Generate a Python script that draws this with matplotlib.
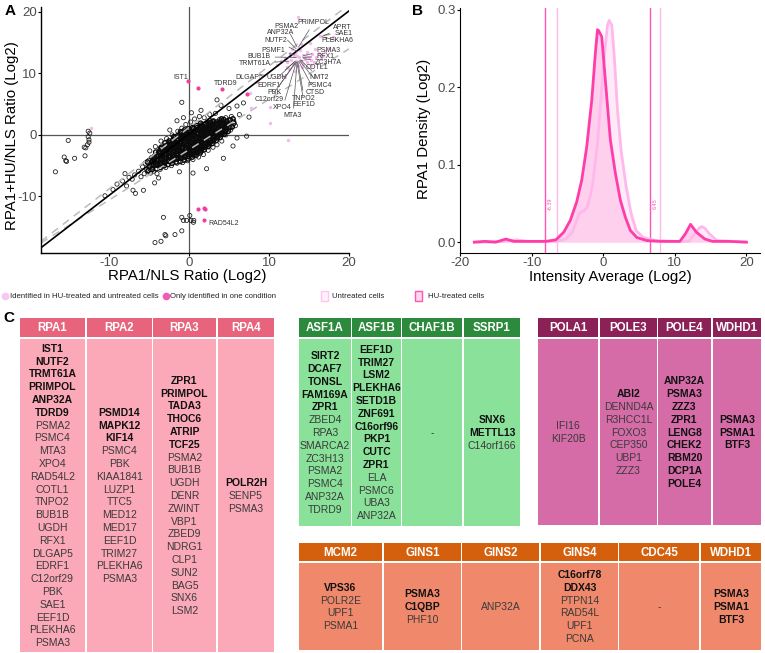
import matplotlib
matplotlib.use('Agg')
import matplotlib.pyplot as plt
from matplotlib.patches import Rectangle

# ---------------- DATA ----------------
# Panel A: background proteins (black open circles)
cloud_points = [
    (-5.8,-5.2),(-5.5,-4.6),(-5.3,-5.6),(-5.0,-4.1),(-4.9,-5.0),(-4.7,-3.7),(-4.6,-4.5),(-4.5,-5.4),
    (-4.3,-3.9),(-4.2,-4.8),(-4.0,-3.2),(-3.9,-4.1),(-3.8,-5.0),(-3.7,-2.8),(-3.6,-3.6),(-3.5,-4.4),
    (-3.4,-2.2),(-3.3,-3.0),(-3.2,-3.9),(-3.1,-4.7),(-3.0,-2.5),(-2.9,-3.3),(-2.8,-1.8),(-2.7,-4.2),
    (-2.6,-2.9),(-2.5,-3.6),(-2.4,-1.5),(-2.3,-2.3),(-2.2,-3.1),(-2.1,-4.0),(-2.0,-1.9),(-1.9,-2.7),
    (-1.8,-3.5),(-1.7,-1.2),(-1.6,-2.2),(-1.5,-3.0),(-1.4,-0.8),(-1.3,-1.7),(-1.2,-2.5),(-1.1,-3.3),
    (-1.0,-1.1),(-0.9,-2.0),(-0.8,-0.4),(-0.7,-2.8),(-0.6,-1.4),(-0.5,-3.6),(-0.4,-0.9),(-0.3,-2.2),
    (-0.2,-0.1),(-0.1,-1.6),(0.0,-2.9),(0.1,-0.6),(0.2,-1.3),(0.3,-2.4),(0.4,0.2),(0.5,-0.9),
    (0.6,-1.8),(0.7,-3.2),(0.8,0.6),(0.9,-0.3),(1.0,-1.4),(1.1,-2.5),(1.2,0.9),(1.3,-0.1),
    (1.4,-1.0),(1.5,-2.0),(1.6,1.3),(1.7,0.3),(1.8,-0.6),(1.9,-1.6),(2.0,1.7),(2.1,0.7),
    (2.2,-0.3),(2.3,-1.3),(2.4,2.0),(2.5,1.0),(2.6,0.0),(2.7,-0.9),(2.8,1.5),(2.9,0.5),
    (3.0,-0.5),(3.1,2.3),(3.2,1.2),(3.3,0.2),(3.4,-0.3),(3.6,1.8),(3.7,0.8),(3.8,2.5),
    (3.9,1.4),(4.0,0.4),(4.2,2.1),(4.4,1.1),(4.6,2.8),(4.8,1.8),(5.0,2.5),(5.3,3.0),(5.6,2.2),
    (-6.8,-6.5),(-6.3,-5.9),(-7.1,-7.2),(-6.0,-6.8),(-5.6,-6.3),(-5.2,-6.0),(-4.8,-6.2),(-4.4,-5.9),
    (-4.0,-6.3),(-3.6,-5.6),(-2.9,-5.3),(-2.2,-5.0),(-1.5,-4.6),(-0.8,-4.5),(-0.2,-4.2),(0.5,-4.0),
    (1.2,-3.6),(1.8,-3.2),(2.4,-2.5),(3.0,-2.0),(3.5,-1.6),(4.1,-1.0),(4.6,0.0),(5.2,0.8),(5.8,1.5),
    (-4.9,-2.6),(-4.2,-1.9),(-3.5,-1.0),(-2.8,-0.6),(-2.1,0.0),(-1.4,0.6),(-0.9,1.1),(-0.4,1.7),
    (0.2,2.1),(0.7,2.6),(1.3,3.0),(1.9,2.8),(2.6,3.3),(3.3,3.5),
    (-0.5,-1.3),(0.0,-1.0),(0.3,-0.4),(-0.2,-2.6),(0.6,-2.2),(1.0,-0.7),(-1.2,-1.4),(-0.7,-0.7),
    (0.9,-1.9),(1.6,-0.4),(-1.8,-2.2),(-2.5,-2.6),(-0.3,0.4),(1.1,0.3),(2.0,-0.7),(-1.0,-2.6),
    (0.4,-3.0),(-3.0,-3.7),(-2.0,-3.3),(1.4,-2.7),(2.7,0.4),(-1.5,-1.9),(0.2,-1.9),(1.8,0.9),
    (3.0,0.9),(-4.1,-4.4),(-3.3,-3.4),(-0.6,-0.2),(0.1,-2.3),(0.8,-1.1),(-0.1,-0.5),(1.3,-1.6),
    (-1.1,-0.4),(0.5,0.8),(2.2,0.3),(-2.6,-1.2),(-3.8,-3.0),(-1.6,-3.9),(0.9,-2.9),(2.5,-1.8),
    (-9.5,-8.9),(-9.0,-8.0),(-8.3,-7.5),(-7.8,-8.3),(-7.5,-6.9),(-7.0,-9.0),(-6.7,-9.5),(-5.7,-9.0),
    (-4.3,-7.8),(-8.0,-6.3),(-2.4,0.8),(-0.9,5.3),(-1.5,2.3),(-0.7,2.8),(3.5,5.7),(6.0,4.7),
    (7.2,-0.2),(2.2,-5.5),(4.3,-3.8),(5.5,-1.8),(6.3,3.3),(6.8,5.2),(5.0,4.3),(4.0,4.8),(7.5,2.9),
    (-1.2,-6.0),(0.5,-6.2),(-3.8,-7.0),(1.5,4.0),(0.3,3.6),(6.0,-0.5),(-10.5,-9.9),
    (-16.7,-6.0),(-15.1,-0.9),(-15.6,-3.6),(-15.4,-4.2),(-15.3,-4.3),(-14.3,-3.8),(-13.0,-3.4),
    (-12.9,-2.1),(-13.1,-2.0),(-12.7,-1.6),(-12.6,-0.3),(-12.5,-0.8),(-12.4,0.3),(-12.6,0.6),(-12.5,-1.2),
    (-3.2,-13.4),(-4.25,-17.5),(-3.5,-17.3),(-3.0,-16.2),(-2.9,-16.4),(-1.75,-16.2),(-0.9,-15.6),
    (-0.9,-13.4),(-0.3,-13.9),(0.25,-13.9),(0.55,-14.2),(0.6,-13.9),(0.1,-13.1),(-0.7,-13.9),
]
# the dense core of the cloud
core_points = [
    (-5.1,-5.8),(-4.9,-5.1),(-5.2,-4.4),
    (-4.6,-5.6),(-4.4,-4.9),(-4.55,-4.2),(-4.35,-3.5),
    (-4.1,-5.5),(-3.9,-4.7),(-4.05,-4.0),(-3.85,-3.4),(-4.15,-2.8),
    (-3.6,-5.3),(-3.4,-4.6),(-3.55,-3.9),(-3.35,-3.2),(-3.65,-2.6),(-3.45,-2.0),
    (-3.1,-5.0),(-2.9,-4.3),(-3.05,-3.6),(-2.85,-3.0),(-3.15,-2.4),(-2.95,-1.8),(-3.0,-1.3),
    (-2.6,-4.8),(-2.4,-4.1),(-2.55,-3.4),(-2.35,-2.8),(-2.65,-2.2),(-2.45,-1.6),(-2.5,-1.0),
    (-2.1,-4.6),(-1.9,-3.9),(-2.05,-3.2),(-1.85,-2.6),(-2.15,-2.0),(-1.95,-1.4),(-2.0,-0.8),(-1.9,-0.3),
    (-1.6,-4.4),(-1.4,-3.7),(-1.55,-3.1),(-1.35,-2.5),(-1.65,-1.9),(-1.45,-1.3),(-1.5,-0.7),(-1.4,-0.1),
    (-1.1,-4.3),(-0.9,-3.6),(-1.05,-3.0),(-0.85,-2.3),(-1.15,-1.7),(-0.95,-1.2),(-1.0,-0.6),(-0.9,0.0),(-1.05,0.5),
    (-0.6,-4.1),(-0.4,-3.4),(-0.55,-2.8),(-0.35,-2.2),(-0.65,-1.6),(-0.45,-1.0),(-0.5,-0.4),(-0.4,0.2),(-0.55,0.8),
    (-0.1,-3.9),(0.1,-3.2),(-0.05,-2.6),(0.15,-2.0),(-0.15,-1.4),(0.05,-0.8),(0.0,-0.2),(0.1,0.4),(-0.05,1.0),
    (0.4,-3.6),(0.6,-3.0),(0.45,-2.4),(0.65,-1.8),(0.35,-1.2),(0.55,-0.6),(0.5,0.0),(0.6,0.6),(0.45,1.2),
    (0.9,-3.3),(1.1,-2.7),(0.95,-2.1),(1.15,-1.5),(0.85,-0.9),(1.05,-0.3),(1.0,0.3),(1.1,0.9),(0.95,1.5),
    (1.4,-2.9),(1.6,-2.3),(1.45,-1.7),(1.65,-1.1),(1.35,-0.5),(1.55,0.1),(1.5,0.7),(1.6,1.3),(1.45,1.9),
    (1.9,-2.4),(2.1,-1.8),(1.95,-1.2),(2.15,-0.6),(1.85,0.0),(2.05,0.6),(2.0,1.2),(2.1,1.8),
    (2.4,-1.9),(2.6,-1.3),(2.45,-0.7),(2.65,-0.1),(2.35,0.5),(2.55,1.1),(2.5,1.7),(2.6,2.3),
    (2.9,-1.4),(3.1,-0.8),(2.95,-0.2),(3.15,0.4),(2.85,1.0),(3.05,1.6),(3.0,2.2),
    (3.4,-0.9),(3.6,-0.3),(3.45,0.3),(3.65,0.9),(3.35,1.5),(3.55,2.1),
    (3.9,-0.4),(4.1,0.2),(3.95,0.8),(4.15,1.4),(3.85,2.0),(4.05,2.6),
    (4.4,0.1),(4.6,0.7),(4.45,1.3),(4.65,1.9),(4.35,2.5),
    (4.9,0.6),(5.1,1.2),(4.95,1.8),(5.15,2.4),
    (5.4,1.3),(5.6,1.9),(5.5,2.6),
]
core_points_inner = [
    (-4.6,-5.0),(-4.35,-4.3),(-4.5,-3.7),
    (-4.1,-4.9),(-3.9,-4.2),(-4.0,-3.5),(-3.8,-2.9),
    (-3.6,-4.8),(-3.35,-4.1),(-3.5,-3.4),(-3.3,-2.8),(-3.55,-2.2),
    (-3.1,-4.5),(-2.85,-3.8),(-3.0,-3.2),(-2.8,-2.6),(-3.05,-2.0),
    (-2.6,-4.3),(-2.35,-3.7),(-2.5,-3.0),(-2.3,-2.4),(-2.55,-1.8),(-2.4,-1.3),
    (-2.1,-4.1),(-1.85,-3.5),(-2.0,-2.9),(-1.8,-2.3),(-2.05,-1.7),(-1.9,-1.1),(-1.8,-0.5),
    (-1.6,-3.9),(-1.35,-3.3),(-1.5,-2.7),(-1.3,-2.1),(-1.55,-1.5),(-1.4,-0.9),(-1.3,-0.3),
    (-1.1,-3.8),(-0.85,-3.2),(-1.0,-2.6),(-0.8,-2.0),(-1.05,-1.4),(-0.9,-0.8),(-0.8,-0.2),(-0.95,0.3),
    (-0.6,-3.6),(-0.35,-3.0),(-0.5,-2.4),(-0.3,-1.8),(-0.55,-1.2),(-0.4,-0.6),(-0.3,0.0),(-0.45,0.5),
    (-0.1,-3.5),(0.15,-2.9),(0.0,-2.3),(0.2,-1.7),(-0.05,-1.1),(0.1,-0.5),(0.2,0.1),(0.05,0.7),
    (0.4,-3.2),(0.65,-2.6),(0.5,-2.0),(0.7,-1.4),(0.45,-0.8),(0.6,-0.2),(0.7,0.4),(0.55,1.0),
    (0.9,-2.9),(1.15,-2.3),(1.0,-1.7),(1.2,-1.1),(0.95,-0.5),(1.1,0.1),(1.2,0.7),(1.05,1.2),
    (1.4,-2.5),(1.65,-1.9),(1.5,-1.3),(1.7,-0.7),(1.45,-0.1),(1.6,0.5),(1.7,1.0),(1.55,1.6),
    (1.9,-2.0),(2.15,-1.4),(2.0,-0.8),(2.2,-0.2),(1.95,0.4),(2.1,0.9),(2.2,1.5),
    (2.4,-1.5),(2.65,-0.9),(2.5,-0.3),(2.7,0.3),(2.45,0.8),(2.6,1.4),(2.7,2.0),
    (2.9,-1.0),(3.15,-0.4),(3.0,0.2),(3.2,0.7),(2.95,1.3),(3.1,1.9),
    (3.4,-0.5),(3.65,0.1),(3.5,0.6),(3.7,1.2),(3.45,1.8),
    (3.9,0.0),(4.15,0.5),(4.0,1.1),(4.2,1.7),(4.1,2.3),
    (4.45,0.5),(4.7,1.0),(4.55,1.6),(4.75,2.2),
]
cloud_x = [p[0] for p in cloud_points]
cloud_y = [p[1] for p in cloud_points]
core_x = [p[0] for p in core_points + core_points_inner]
core_y = [p[1] for p in core_points + core_points_inner]

# identified in both conditions (light pink)
both_x = [12.0,12.3,12.6,12.8,13.0,13.1,13.3,13.4,13.6,13.7,13.9,14.0,14.2,14.3,14.5,14.7,14.8,15.0,
          15.2,15.4,15.6,15.9,16.2,16.5,12.5,13.2,11.5,11.0,17.0,17.5,16.4,15.1,13.6,12.6,10.1,7.8,
          10.1,12.4,9.3,8.5,7.6,-12.2,14.0,18.0,11.8,12.9,13.5,14.1,14.6,15.3,13.8,12.2,16.8,15.7]
both_y = [12.5,11.8,13.0,12.2,11.5,12.8,13.4,12.0,11.2,12.6,13.8,12.1,11.6,13.0,12.4,11.9,13.5,12.7,
          12.2,13.2,11.8,12.6,13.3,12.4,10.8,10.4,12.0,11.3,13.6,14.2,16.1,15.0,19.1,13.4,4.6,4.4,
          2.0,-0.8,9.8,8.6,6.8,1.1,14.8,16.0,9.5,13.9,12.9,11.0,12.9,11.4,14.2,11.1,12.9,14.0]
# identified in only one condition (magenta)
one_x = [-0.1, 1.1, 4.1, 7.3, 1.15, 1.9, 2.0, 1.9]
one_y = [8.7, 7.6, 7.5, 6.7, -12.1, -11.9, -12.0, -13.9]

# fitted line and reference lines (slope, intercept)
fit_line = (1.0, 0.16)
ref_lines = [(1.0, 1.2), (0.82, -2.4)]

# labels of panel A: name, label position, point the leader goes to
cluster_labels = ['PRIMPOL','PSMA2','ANP32A','NUTF2','APRT','SAE1','PLEKHA6','PSMF1','PSMA3','RFX1',
                  'BUB1B','ZC3H7A','TRMT61A','COTL1','DLGAP5','UGDH','NMT2','EDRF1','PSMC4','PBK',
                  'CTSD','TNPO2','C12orf29','EEF1D','XPO4','MTA3']
cluster_label_xy = [(15.6,18.3),(12.2,17.6),(11.4,16.6),(10.9,15.4),(19.2,17.5),(19.3,16.5),(18.5,15.3),
                    (10.5,13.8),(17.4,13.8),(17.0,12.8),(8.8,12.7),(17.4,11.8),(8.25,11.6),(16.0,10.9),
                    (7.5,9.3),(11.0,9.4),(16.3,9.3),(10.0,8.0),(16.3,8.1),(10.7,6.9),(15.8,6.9),
                    (14.4,6.0),(10.0,5.7),(14.4,5.0),(11.7,4.4),(13.0,3.1)]
cluster_targets = [(13.7,14.3),(13.5,14.3),(13.4,14.0),(13.6,13.5),(16.6,16.0),(16.8,16.2),(16.9,15.9),
                   (13.2,13.0),(14.3,12.9),(14.2,12.6),(13.4,12.6),(14.3,12.4),(12.5,12.0),(14.0,12.2),
                   (9.8,9.6),(13.3,12.0),(13.9,12.2),(13.2,11.9),(13.8,12.1),(13.3,11.8),(13.7,12.0),
                   (13.6,11.9),(13.3,11.7),(13.5,11.8),(13.4,11.8),(13.5,11.9)]
single_labels = ['IST1','TDRD9','RAD54L2']
single_label_xy = [(-1.0,9.3),(4.6,8.4),(4.3,-14.4)]

# Panel B: density curves
hu_x = [-18.0,-16.5,-15.0,-13.6,-12.5,-11.0,-9.5,-8.0,-6.6,-5.5,-4.6,-3.7,-3.0,-2.3,-1.6,-1.1,-0.8,
        -0.65,-0.2,0.3,1.0,1.7,2.4,3.1,3.8,4.7,6.1,8.0,10.7,11.5,12.2,13.0,14.2,15.3,17.5,20.0]
hu_y = [0.0,0.001,0.0,0.004,0.001,0.001,0.001,0.001,0.003,0.013,0.028,0.052,0.080,0.123,0.183,0.243,0.274,
        0.273,0.265,0.209,0.132,0.089,0.054,0.032,0.015,0.006,0.002,0.001,0.001,0.011,0.023,0.013,0.004,0.001,0.001,0.0]
unt_x = [-18.0,-16.0,-14.0,-12.1,-10.5,-8.0,-6.6,-5.2,-4.3,-3.35,-2.65,-2.2,-1.5,-0.8,-0.33,0.14,0.6,0.84,
         1.2,1.55,2.0,2.5,3.2,3.9,4.6,5.6,7.4,10.0,12.0,12.8,13.5,13.8,14.2,14.8,15.9,18.0,20.0]
unt_y = [0.0,0.0,0.001,0.003,0.001,0.001,0.001,0.004,0.013,0.037,0.041,0.045,0.072,0.127,0.183,0.239,0.280,0.286,
         0.280,0.239,0.170,0.118,0.072,0.037,0.015,0.006,0.002,0.001,0.001,0.011,0.019,0.020,0.018,0.011,0.002,0.001,0.0]
hu_cutoffs = [-8.1, 6.5]
unt_cutoffs = [-6.4, 7.9]
cutoff_labels = ['-6.39', '6.45']

# Panel C: tables
rpa_headers = ['RPA1','RPA2','RPA3','RPA4']
rpa_genes = [
    ['IST1','NUTF2','TRMT61A','PRIMPOL','ANP32A','TDRD9','PSMA2','PSMC4','MTA3','XPO4','RAD54L2','COTL1',
     'TNPO2','BUB1B','UGDH','RFX1','DLGAP5','EDRF1','C12orf29','PBK','SAE1','EEF1D','PLEKHA6','PSMA3'],
    ['PSMD14','MAPK12','KIF14','PSMC4','PBK','KIAA1841','LUZP1','TTC5','MED12','MED17','EEF1D','TRIM27',
     'PLEKHA6','PSMA3'],
    ['ZPR1','PRIMPOL','TADA3','THOC6','ATRIP','TCF25','PSMA2','BUB1B','UGDH','DENR','ZWINT','VBP1','ZBED9',
     'NDRG1','CLP1','SUN2','BAG5','SNX6','LSM2'],
    ['POLR2H','SENP5','PSMA3'],
]
rpa_bold = [6, 3, 6, 1]

chaperone_headers = ['ASF1A','ASF1B','CHAF1B','SSRP1']
chaperone_genes = [
    ['SIRT2','DCAF7','TONSL','FAM169A','ZPR1','ZBED4','RPA3','SMARCA2','ZC3H13','PSMA2','PSMC4','ANP32A','TDRD9'],
    ['EEF1D','TRIM27','LSM2','PLEKHA6','SETD1B','ZNF691','C16orf96','PKP1','CUTC','ZPR1','ELA','PSMC6','UBA3','ANP32A'],
    ['-'],
    ['SNX6','METTL13','C14orf166'],
]
chaperone_bold = [5, 10, 0, 2]

polymerase_headers = ['POLA1','POLE3','POLE4','WDHD1']
polymerase_genes = [
    ['IFI16','KIF20B'],
    ['ABI2','DENND4A','R3HCC1L','FOXO3','CEP350','UBP1','ZZZ3'],
    ['ANP32A','PSMA3','ZZZ3','ZPR1','LENG8','CHEK2','RBM20','DCP1A','POLE4'],
    ['PSMA3','PSMA1','BTF3'],
]
polymerase_bold = [0, 1, 9, 3]

helicase_headers = ['MCM2','GINS1','GINS2','GINS4','CDC45','WDHD1']
helicase_genes = [
    ['VPS36','POLR2E','UPF1','PSMA1'],
    ['PSMA3','C1QBP','PHF10'],
    ['ANP32A'],
    ['C16orf78','DDX43','PTPN14','RAD54L','UPF1','PCNA'],
    ['-'],
    ['PSMA3','PSMA1','BTF3'],
]
helicase_bold = [1, 2, 0, 2, 0, 3]

# ---------------- FIGURE ----------------
W, H = 765, 653
fig = plt.figure(figsize=(7.65, 6.53), dpi=100)
SANS = ['Liberation Sans', 'DejaVu Sans']

def frect(x0, y0, x1, y1):
    return [x0 / W, 1 - y1 / H, (x1 - x0) / W, (y1 - y0) / H]

TICKC = '#4D4D4D'
TICKSIZE = 9.5
LABSIZE = 5.0

# ---- Panel A ----
axA = fig.add_axes(frect(41, 7, 349, 253))
axA.set_xlim(-18.5, 20)
axA.set_ylim(-19.2, 20.8)
axA.axhline(0, color='#555555', lw=0.9, zorder=1)
axA.axvline(0, color='#555555', lw=0.9, zorder=1)
axA.scatter(cloud_x, cloud_y, s=9, facecolors='none', edgecolors='#151515', linewidths=0.55, zorder=2)
axA.scatter(core_x, core_y, s=10, facecolors='none', edgecolors='#0a0a0a', linewidths=1.0, zorder=2)
axA.scatter(both_x, both_y, s=6, color='#F4B8EE', linewidths=0, zorder=3)
axA.scatter(one_x, one_y, s=9, color='#EE3FA0', linewidths=0, zorder=4)
for m, b in ref_lines:
    axA.axline((0, b), slope=m, color='#BBBBBB', lw=1.1, ls=(0, (5, 4)), zorder=2.5)
axA.axline((0, fit_line[1]), slope=fit_line[0], color='black', lw=1.2, zorder=5)
for name, (tx, ty), (px, py) in zip(cluster_labels, cluster_label_xy, cluster_targets):
    axA.annotate(name, xy=(px, py), xytext=(tx, ty), fontsize=LABSIZE, family=SANS, color='#333333',
                 ha='center', va='center',
                 arrowprops=dict(arrowstyle='-', lw=0.5, color='#555555', shrinkA=1, shrinkB=0), zorder=6)
for name, (tx, ty) in zip(single_labels, single_label_xy):
    axA.text(tx, ty, name, fontsize=LABSIZE, family=SANS, color='#333333', ha='center', va='center', zorder=6)
for s in ['top', 'right']:
    axA.spines[s].set_visible(False)
for s in ['left', 'bottom']:
    axA.spines[s].set_linewidth(1.0)
axA.set_xticks([-10, 0, 10, 20])
axA.set_yticks([-10, 0, 10, 20])
axA.set_xticklabels(['-10', '0', '10', '20'])
axA.set_yticklabels(['-10', '0', '10', '20'])
axA.tick_params(length=2.5, width=0.8, labelsize=TICKSIZE, labelcolor=TICKC, pad=0.5)
for lab in axA.get_xticklabels() + axA.get_yticklabels():
    lab.set_family(SANS)
fig.text(187.5 / W, 1 - 276 / H, 'RPA1/NLS Ratio (Log2)', fontsize=10.8, family=SANS, ha='center', va='center')
fig.text(12 / W, 1 - 136 / H, 'RPA1+HU/NLS Ratio (Log2)', fontsize=10.8, family=SANS, ha='center', va='center',
         rotation=90)
fig.text(5 / W, 1 - 11 / H, 'A', fontsize=11, fontweight='bold', family=SANS, ha='left', va='center')

# ---- Panel B ----
axB = fig.add_axes(frect(460, 8, 760, 253))
axB.set_xlim(-20, 21.9)
axB.set_ylim(-0.014, 0.302)
axB.fill_between(unt_x, unt_y, color='#FFEAF8', lw=0, zorder=1)
axB.fill_between(hu_x, hu_y, color='#FFCFEE', lw=0, zorder=2)
for c in unt_cutoffs:
    axB.axvline(c, color='#FFB8EA', lw=1.0, zorder=3)
for c in hu_cutoffs:
    axB.axvline(c, color='#FF55B5', lw=1.0, zorder=3)
axB.plot(unt_x, unt_y, color='#FFB8EC', lw=2.0, zorder=4, solid_joinstyle='round')
axB.plot(hu_x, hu_y, color='#FF3DA8', lw=2.0, zorder=5, solid_joinstyle='round')
axB.text(-7.35, 0.05, cutoff_labels[0], rotation=90, fontsize=3.5, color='#FF55B5', ha='center', va='center')
axB.text(7.2, 0.05, cutoff_labels[1], rotation=90, fontsize=3.5, color='#FF55B5', ha='center', va='center')
for s in ['top', 'right']:
    axB.spines[s].set_visible(False)
axB.set_xticks([-20, -10, 0, 10, 20])
axB.set_yticks([0.0, 0.1, 0.2, 0.3])
axB.set_yticklabels(['0.0', '0.1', '0.2', '0.3'])
axB.set_xticklabels(['-20', '-10', '0', '10', '20'])
axB.tick_params(length=2.5, width=0.8, labelsize=TICKSIZE, labelcolor=TICKC, pad=0.5)
for lab in axB.get_xticklabels() + axB.get_yticklabels():
    lab.set_family(SANS)
fig.text(610 / W, 1 - 277 / H, 'Intensity Average (Log2)', fontsize=10.8, family=SANS, ha='center', va='center')
fig.text(424 / W, 1 - 129 / H, 'RPA1 Density (Log2)', fontsize=10.8, family=SANS, ha='center', va='center',
         rotation=90)
fig.text(412 / W, 1 - 11 / H, 'B', fontsize=11, fontweight='bold', family=SANS, ha='left', va='center')

# ---- overlay for legends and panel C ----
axO = fig.add_axes([0, 0, 1, 1])
axO.set_xlim(0, W)
axO.set_ylim(H, 0)
axO.axis('off')
axO.patch.set_visible(False)

LEGFONT = dict(family=SANS, fontsize=5.6)
ly = 296
axO.plot([5], [ly], 'o', ms=5.5, color='#F7C6F2', mec='none')
axO.text(10.5, ly, 'Identified in HU-treated and untreated cells', va='center', ha='left', color='#222', **LEGFONT)
axO.plot([166], [ly], 'o', ms=5.5, color='#F25CB5', mec='none')
axO.text(170.5, ly, 'Only identified in one condition', va='center', ha='left', color='#222', **LEGFONT)
axO.add_patch(Rectangle((321, ly - 5), 7, 10, facecolor='#FFF2FB', edgecolor='#FFC6EE', lw=1))
axO.text(332, ly, 'Untreated cells', va='center', ha='left', color='#222', **LEGFONT)
axO.add_patch(Rectangle((415, ly - 5), 7, 10, facecolor='#FFD6EF', edgecolor='#FF55B5', lw=1))
axO.text(428, ly, 'HU-treated cells', va='center', ha='left', color='#222', **LEGFONT)

fig.text(3 / W, 1 - 318 / H, 'C', fontsize=11, fontweight='bold', family=SANS, ha='left', va='center')

LINE = 12.8

def draw_table(col_edges, head_y, body_y, headers, genes, nbold, hcol, bcol):
    for (x0, x1), head, glist, nb in zip(col_edges, headers, genes, nbold):
        xc = (x0 + x1) / 2
        axO.add_patch(Rectangle((x0, head_y[0]), x1 - x0, head_y[1] - head_y[0], facecolor=hcol, lw=0))
        axO.text(xc, (head_y[0] + head_y[1]) / 2 + 0.5, head, color='white', fontweight='bold', fontsize=8.3,
                 family=SANS, ha='center', va='center')
        axO.add_patch(Rectangle((x0, body_y[0]), x1 - x0, body_y[1] - body_y[0], facecolor=bcol, lw=0))
        n = len(glist)
        yc = (body_y[0] + body_y[1]) / 2
        for i, g in enumerate(glist):
            bold = i < nb
            axO.text(xc, yc + (i - (n - 1) / 2) * LINE + 0.5, g, fontsize=7.5, family=SANS,
                     fontweight='bold' if bold else 'normal', color='#111111' if bold else '#3a3a3a',
                     ha='center', va='center')

draw_table([(20, 85), (87, 152), (153, 216), (218, 274)], (318, 337), (339, 652),
           rpa_headers, rpa_genes, rpa_bold, '#E8647C', '#FBA8B8')
draw_table([(299, 351), (352, 401), (402, 462), (464, 520)], (318, 337), (339, 526),
           chaperone_headers, chaperone_genes, chaperone_bold, '#2B8A3C', '#8AE29A')
draw_table([(538, 598), (600, 657), (658, 711), (713, 761)], (318, 337), (339, 525),
           polymerase_headers, polymerase_genes, polymerase_bold, '#8C2157', '#D56CA8')
draw_table([(299, 382), (384, 461), (462, 539), (541, 618), (619, 699), (701, 761)], (543, 561), (563, 650),
           helicase_headers, helicase_genes, helicase_bold, '#D45F0C', '#F0896B')

fig.savefig('out.png', dpi=100)
